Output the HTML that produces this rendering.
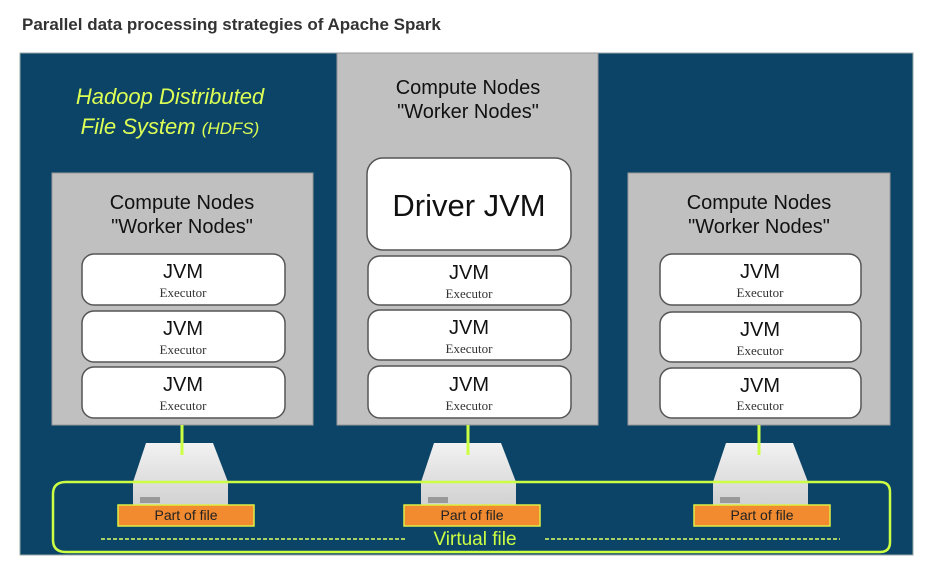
<!DOCTYPE html>
<html><head><style>
body{margin:0;background:#fff;width:932px;height:569px;overflow:hidden}
</style></head><body>
<svg width="932" height="569" xmlns="http://www.w3.org/2000/svg" font-family="Liberation Sans, sans-serif">
<defs>
<linearGradient id="dk" x1="0" y1="0" x2="0" y2="1"><stop offset="0" stop-color="#f2f2f2"/><stop offset="1" stop-color="#cfcfcf"/></linearGradient>
</defs>
<text x="22" y="30" font-size="17" font-weight="bold" fill="#333">Parallel data processing strategies of Apache Spark</text>
<rect x="20" y="53" width="893" height="502" fill="#0b4467" stroke="#9aa" stroke-width="1"/>
<text x="170" y="104" font-size="22" font-style="italic" fill="#ddff55" text-anchor="middle" transform="scale(1,1)">Hadoop Distributed</text>
<text x="170" y="134" font-size="22" font-style="italic" fill="#ddff55" text-anchor="middle">File System <tspan font-size="17">(HDFS)</tspan></text>
<g>
<rect x="52" y="173" width="261" height="252" fill="#c0c0c0" stroke="#999"/>
<rect x="337" y="53" width="261" height="372" fill="#c0c0c0" stroke="#999"/>
<rect x="628" y="173" width="262" height="252" fill="#c0c0c0" stroke="#999"/>
</g>
<g font-size="20" fill="#111" text-anchor="middle">
<text x="182" y="209">Compute Nodes</text><text x="182" y="233">"Worker Nodes"</text>
<text x="468" y="94">Compute Nodes</text><text x="468" y="118">"Worker Nodes"</text>
<text x="759" y="209">Compute Nodes</text><text x="759" y="233">"Worker Nodes"</text>
</g>
<rect x="367" y="158" width="204" height="92" rx="16" fill="#fff" stroke="#555" stroke-width="1.5"/>
<text x="469" y="216" font-size="31" text-anchor="middle" fill="#111">Driver JVM</text>
<g fill="#fff" stroke="#555" stroke-width="1.5">
<rect x="82" y="254" width="203" height="51" rx="12"/><rect x="82" y="311" width="203" height="51" rx="12"/><rect x="82" y="367" width="203" height="51" rx="12"/>
<rect x="368" y="256" width="203" height="49" rx="12"/><rect x="368" y="310" width="203" height="50" rx="12"/><rect x="368" y="366" width="203" height="52" rx="12"/>
<rect x="660" y="254" width="201" height="51" rx="12"/><rect x="660" y="312" width="201" height="50" rx="12"/><rect x="660" y="368" width="201" height="50" rx="12"/>
</g>
<g text-anchor="middle" fill="#111">
<g font-size="20"><text x="183" y="278">JVM</text><text x="183" y="335">JVM</text><text x="183" y="391">JVM</text>
<text x="469" y="279">JVM</text><text x="469" y="334">JVM</text><text x="469" y="391">JVM</text>
<text x="760" y="278">JVM</text><text x="760" y="336">JVM</text><text x="760" y="392">JVM</text></g>
<g font-size="13" font-family="Liberation Serif, serif" fill="#333"><text x="183" y="297">Executor</text><text x="183" y="354">Executor</text><text x="183" y="410">Executor</text>
<text x="469" y="298">Executor</text><text x="469" y="353">Executor</text><text x="469" y="410">Executor</text>
<text x="760" y="297">Executor</text><text x="760" y="355">Executor</text><text x="760" y="410">Executor</text></g>
</g>
<g id="disks">
<g transform="translate(180,0)"><path d="M-34 443 H33 L48 482 V510 H-47 V482 Z" fill="url(#dk)"/><line x1="-47" y1="482" x2="48" y2="482" stroke="#fff" stroke-width="1"/><rect x="-40" y="497" width="20" height="6" fill="#999"/></g>
<g transform="translate(468,0)"><path d="M-34 443 H33 L48 482 V510 H-47 V482 Z" fill="url(#dk)"/><line x1="-47" y1="482" x2="48" y2="482" stroke="#fff" stroke-width="1"/><rect x="-40" y="497" width="20" height="6" fill="#999"/></g>
<g transform="translate(760,0)"><path d="M-34 443 H33 L48 482 V510 H-47 V482 Z" fill="url(#dk)"/><line x1="-47" y1="482" x2="48" y2="482" stroke="#fff" stroke-width="1"/><rect x="-40" y="497" width="20" height="6" fill="#999"/></g>
</g>
<g stroke="#ccff44" stroke-width="3"><line x1="182" y1="425" x2="182" y2="455"/><line x1="468" y1="425" x2="468" y2="455"/><line x1="759" y1="425" x2="759" y2="455"/></g>
<path d="M66 482 H880 Q890 482 890 492 V542 Q890 552 880 552 H66 Q53 552 53 540 V494 Q53 482 66 482 Z" fill="none" stroke="#ccff44" stroke-width="2.5"/>
<g fill="#f28a30" stroke="#ddee44" stroke-width="1.5">
<rect x="118" y="505" width="136" height="21"/><rect x="404" y="505" width="136" height="21"/><rect x="694" y="505" width="136" height="21"/>
</g>
<g font-size="14" fill="#222" text-anchor="middle"><text x="186" y="520">Part of file</text><text x="472" y="520">Part of file</text><text x="762" y="520">Part of file</text></g>
<g stroke="#ddff66" stroke-width="1.5" stroke-dasharray="4,2"><line x1="101" y1="539" x2="406" y2="539"/><line x1="545" y1="539" x2="840" y2="539"/></g>
<text x="475" y="545" font-size="19" fill="#ccff44" text-anchor="middle">Virtual file</text>
</svg>
</body></html>
